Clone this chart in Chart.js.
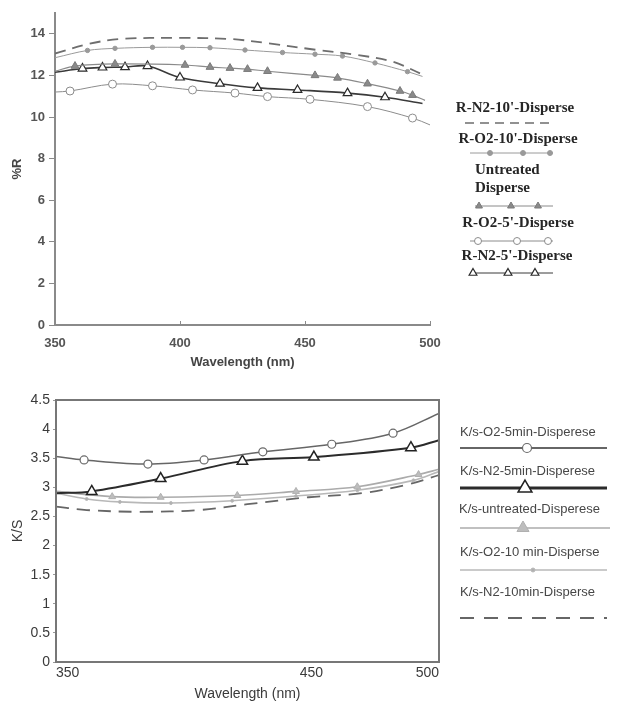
<!DOCTYPE html>
<html>
<head>
<meta charset="utf-8">
<script src="https://cdn.jsdelivr.net/npm/chart.js@4.4.0/dist/chart.umd.min.js"></script>
<style>
  html, body { margin: 0; padding: 0; background: #fff; }
  #wrap { position: relative; width: 617px; height: 706px; overflow: hidden; }
  canvas { position: absolute; left: 0; }
  #reflect { top: 0; }
  #ks { top: 370px; }
</style>
</head>
<body>
<div id="wrap">
  <canvas id="reflect" width="617" height="370"></canvas>
  <canvas id="ks" width="617" height="336"></canvas>
</div>
<script>
// ---------- Reflectance (%R) spectra ----------
const rN2_10_wl  = [350, 363, 376, 400, 420, 435, 455, 470, 485, 496];
const rN2_10_val = [13.05, 13.5, 13.75, 13.8, 13.75, 13.55, 13.22, 13.0, 12.66, 12.1];

const rO2_10_wl  = [350, 363, 374, 389, 401, 412, 426, 441, 454, 465, 478, 491, 497];
const rO2_10_val = [12.85, 13.2, 13.3, 13.35, 13.35, 13.33, 13.22, 13.1, 13.02, 12.93, 12.6, 12.18, 11.95];

const rUntr_wl  = [350, 358, 374, 402, 412, 420, 427, 435, 454, 463, 475, 488, 493, 498];
const rUntr_val = [12.2, 12.45, 12.55, 12.5, 12.4, 12.35, 12.3, 12.2, 12.0, 11.88, 11.6, 11.25, 11.05, 10.8];

const rO2_5_wl  = [350, 356, 373, 389, 405, 422, 435, 452, 475, 493, 500];
const rO2_5_val = [11.2, 11.25, 11.58, 11.5, 11.3, 11.15, 10.98, 10.85, 10.5, 9.95, 9.62];

const rN2_5_wl  = [350, 361, 369, 378, 387, 400, 416, 431, 447, 467, 482, 497];
const rN2_5_val = [12.15, 12.33, 12.38, 12.4, 12.45, 11.9, 11.6, 11.4, 11.3, 11.15, 10.95, 10.65];

const reflectTicksX = [350, 400, 450, 500];
const reflectLabels = ["R-N2-10'-Disperse", "R-O2-10'-Disperse", "Untreated|Disperse", "R-O2-5'-Disperse", "R-N2-5'-Disperse"];

// ---------- K/S spectra ----------
const ksO2_5_wl  = [350, 361, 386, 408, 431, 458, 482, 500];
const ksO2_5_val = [3.53, 3.47, 3.4, 3.47, 3.61, 3.74, 3.93, 4.27];

const ksN2_5_wl  = [350, 364, 391, 423, 451, 489, 500];
const ksN2_5_val = [2.9, 2.93, 3.15, 3.45, 3.52, 3.68, 3.81];

const ksUntr_wl  = [350, 372, 391, 421, 444, 468, 492, 500];
const ksUntr_val = [2.93, 2.84, 2.83, 2.86, 2.93, 3.01, 3.22, 3.31];

const ksO2_10_wl  = [350, 362, 375, 395, 419, 444, 468, 490, 500];
const ksO2_10_val = [2.9, 2.8, 2.75, 2.73, 2.77, 2.85, 2.95, 3.12, 3.27];

const ksN2_10_wl  = [350, 362, 383, 406, 425, 449, 470, 487, 500];
const ksN2_10_val = [2.67, 2.61, 2.58, 2.61, 2.71, 2.83, 2.9, 3.04, 3.21];

const ksTicksX = [350, 450, 500];
const ksLabels = ['K/s-O2-5min-Disperese', 'K/s-N2-5min-Disperese', 'K/s-untreated-Disperese', 'K/s-O2-10 min-Disperse', 'K/s-N2-10min-Disperse'];

// ---------- helpers ----------
const zip = (xs, ys) => xs.map((x, i) => ({ x, y: ys[i] }));
// markers on interior points only; the curve ends carry no symbol
const innerRadius = (r) => (ctx) => {
  const n = ctx.dataset.data.length;
  return (ctx.dataIndex === 0 || ctx.dataIndex === n - 1) ? 0 : r;
};

function series(label, wl, val, st) {
  return {
    label,
    data: zip(wl, val),
    borderColor: st.line,
    borderWidth: st.width,
    borderDash: st.dash || [],
    pointStyle: st.marker || 'circle',
    pointRadius: st.marker ? innerRadius(st.r) : 0,
    pointBackgroundColor: st.fill || st.line,
    pointBorderColor: st.edge || st.line,
    pointBorderWidth: st.edgeWidth || 1,
    tension: 0.35,
    fill: false
  };
}

function marker(ctx, style, x, y, r, fill, edge, lw) {
  ctx.save();
  ctx.beginPath();
  if (style === 'triangle') {
    const a = 2 * Math.PI / 3;
    ctx.moveTo(x, y - r);
    ctx.lineTo(x + Math.sin(a) * r, y - Math.cos(a) * r);
    ctx.lineTo(x + Math.sin(2 * a) * r, y - Math.cos(2 * a) * r);
    ctx.closePath();
  } else {
    ctx.arc(x, y, r, 0, Math.PI * 2);
  }
  ctx.fillStyle = fill;
  ctx.fill();
  ctx.strokeStyle = edge;
  ctx.lineWidth = lw;
  ctx.setLineDash([]);
  ctx.stroke();
  ctx.restore();
}

// side legend: each entry is text line(s) with a line sample beneath it
const sideLegend = {
  id: 'sideLegend',
  afterDraw(chart, args, opts) {
    const ctx = chart.ctx;
    opts.items.forEach(it => {
      const ds = chart.data.datasets[it.ds];
      ctx.save();
      ctx.font = opts.font;
      ctx.fillStyle = opts.color;
      ctx.textBaseline = 'middle';
      it.text.forEach(t => {
        ctx.textAlign = t.align || 'center';
        ctx.fillText(t.s, t.x, t.y);
      });
      ctx.beginPath();
      ctx.strokeStyle = it.lineColor || ds.borderColor;
      ctx.lineWidth = it.lineWidth || ds.borderWidth;
      ctx.setLineDash(it.dash || []);
      ctx.moveTo(it.x1, it.ly);
      ctx.lineTo(it.x2, it.ly);
      ctx.stroke();
      ctx.restore();
      (it.marks || []).forEach(mx => marker(ctx, ds.pointStyle, mx, it.ly, it.r,
        ds.pointBackgroundColor, ds.pointBorderColor, ds.pointBorderWidth));
    });
  }
};

// rectangular frame around the K/S plot area
const plotFrame = {
  id: 'plotFrame',
  afterDraw(chart, args, opts) {
    const a = chart.chartArea, ctx = chart.ctx;
    ctx.save();
    ctx.strokeStyle = opts.color;
    ctx.lineWidth = opts.width;
    ctx.strokeRect(a.left, a.top, a.right - a.left, a.bottom - a.top);
    ctx.restore();
  }
};

// short tick marks pointing up into the plot from the %R wavelength axis
const innerXTicks = {
  id: 'innerXTicks',
  afterDraw(chart, args, opts) {
    const x = chart.scales.x, ctx = chart.ctx, base = chart.chartArea.bottom;
    ctx.save();
    ctx.strokeStyle = opts.color;
    ctx.lineWidth = 1;
    x.ticks.forEach(t => {
      const px = Math.round(x.getPixelForValue(t.value)) + 0.5;
      ctx.beginPath();
      ctx.moveTo(px, base);
      ctx.lineTo(px, base - opts.length);
      ctx.stroke();
    });
    ctx.restore();
  }
};

const sansBold = (size) => ({ family: '"Liberation Sans", Arial, sans-serif', size, weight: 'bold' });
const sans = (size) => ({ family: '"Liberation Sans", Arial, sans-serif', size, weight: 'normal' });

// ---------- %R chart ----------
new Chart(document.getElementById('reflect'), {
  type: 'line',
  data: {
    datasets: [
      series(reflectLabels[0], rN2_10_wl, rN2_10_val, { line: '#6e6e6e', width: 1.8, dash: [11, 7] }),
      series(reflectLabels[1], rO2_10_wl, rO2_10_val, { line: '#9a9a9a', width: 1, marker: 'circle', r: 2.2, fill: '#9a9a9a' }),
      series(reflectLabels[2], rUntr_wl, rUntr_val, { line: '#8a8a8a', width: 1.2, marker: 'triangle', r: 4.5, fill: '#8a8a8a', edge: '#7a7a7a' }),
      series(reflectLabels[3], rO2_5_wl, rO2_5_val, { line: '#8c8c8c', width: 1, marker: 'circle', r: 4, fill: '#ffffff', edge: '#8c8c8c' }),
      series(reflectLabels[4], rN2_5_wl, rN2_5_val, { line: '#3a3a3a', width: 1.6, marker: 'triangle', r: 5, fill: '#ffffff', edge: '#2a2a2a', edgeWidth: 1.2 })
    ]
  },
  options: {
    responsive: false,
    animation: false,
    devicePixelRatio: 1,
    layout: { padding: { top: 13, right: 187, left: 0, bottom: 0 } },
    plugins: {
      legend: { display: false },
      tooltip: { enabled: false },
      innerXTicks: { color: '#8a8a8a', length: 4 },
      sideLegend: {
        font: 'bold 15px "Liberation Serif", "Times New Roman", serif',
        color: '#262626',
        items: [
          { ds: 0, text: [{ s: reflectLabels[0], x: 515, y: 108 }], ly: 123, x1: 465, x2: 552, lineWidth: 1.5, dash: [9, 6] },
          { ds: 1, text: [{ s: reflectLabels[1], x: 518, y: 139 }], ly: 153, x1: 470, x2: 553, lineWidth: 1, marks: [490, 523, 550], r: 2.5 },
          { ds: 2, text: [{ s: 'Untreated', x: 475, y: 170, align: 'left' }, { s: 'Disperse', x: 475, y: 188, align: 'left' }], ly: 206, x1: 475, x2: 553, lineWidth: 1, marks: [479, 511, 538], r: 4 },
          { ds: 3, text: [{ s: reflectLabels[3], x: 518, y: 223 }], ly: 241, x1: 470, x2: 553, lineWidth: 1, marks: [478, 517, 548], r: 3.5 },
          { ds: 4, text: [{ s: reflectLabels[4], x: 517, y: 256 }], ly: 273, x1: 470, x2: 553, lineWidth: 1, marks: [473, 508, 535], r: 4.5 }
        ]
      }
    },
    scales: {
      x: {
        type: 'linear', min: 350, max: 500,
        afterBuildTicks: (s) => { s.ticks = reflectTicksX.map(v => ({ value: v })); },
        afterFit: (s) => { s.height = 45; },
        grid: { display: false, drawTicks: false },
        border: { display: true, color: '#8a8a8a', width: 2 },
        ticks: { font: sansBold(13), color: '#555', padding: 11, maxRotation: 0 },
        title: { display: true, text: 'Wavelength (nm)', font: sansBold(13), color: '#444', padding: { top: 0, bottom: 0 } }
      },
      y: {
        type: 'linear', min: 0, max: 15,
        ticks: { stepSize: 2, font: sansBold(13), color: '#555', padding: 4 },
        afterBuildTicks: (s) => { s.ticks = s.ticks.filter(t => t.value % 2 === 0); },
        afterFit: (s) => { s.width = 55; },
        grid: { display: true, drawOnChartArea: false, drawTicks: true, tickLength: 6, color: '#8a8a8a', lineWidth: 1 },
        border: { display: true, color: '#8a8a8a', width: 2 },
        title: { display: true, text: '%R', font: sansBold(13), color: '#444', padding: { top: 10, bottom: 0 } }
      }
    }
  },
  plugins: [sideLegend, innerXTicks]
});

// ---------- K/S chart ----------
new Chart(document.getElementById('ks'), {
  type: 'line',
  data: {
    datasets: [
      series(ksLabels[0], ksO2_5_wl, ksO2_5_val, { line: '#666666', width: 1.5, marker: 'circle', r: 4, fill: '#ffffff', edge: '#6a6a6a', edgeWidth: 1.2 }),
      series(ksLabels[1], ksN2_5_wl, ksN2_5_val, { line: '#2b2b2b', width: 2, marker: 'triangle', r: 6, fill: '#ffffff', edge: '#222222', edgeWidth: 1.5 }),
      series(ksLabels[2], ksUntr_wl, ksUntr_val, { line: '#ababab', width: 1.6, marker: 'triangle', r: 4, fill: '#bdbdbd', edge: '#b0b0b0' }),
      series(ksLabels[3], ksO2_10_wl, ksO2_10_val, { line: '#b8b8b8', width: 1.6, marker: 'circle', r: 1.5, fill: '#b0b0b0' }),
      series(ksLabels[4], ksN2_10_wl, ksN2_10_val, { line: '#666666', width: 1.8, dash: [13, 8] })
    ]
  },
  options: {
    responsive: false,
    animation: false,
    devicePixelRatio: 1,
    layout: { padding: { top: 30, right: 178, left: 0, bottom: 0 } },
    plugins: {
      legend: { display: false },
      tooltip: { enabled: false },
      plotFrame: { color: '#777', width: 2 },
      sideLegend: {
        font: '13px "Liberation Sans", Arial, sans-serif',
        color: '#474747',
        items: [
          { ds: 0, text: [{ s: ksLabels[0], x: 460, y: 62, align: 'left' }], ly: 78, x1: 460, x2: 607, lineWidth: 2, marks: [527], r: 4.5 },
          { ds: 1, text: [{ s: ksLabels[1], x: 460, y: 101, align: 'left' }], ly: 118, x1: 460, x2: 607, lineWidth: 3, marks: [525], r: 8 },
          { ds: 2, text: [{ s: ksLabels[2], x: 459, y: 139, align: 'left' }], ly: 158, x1: 460, x2: 610, lineWidth: 1.5, marks: [523], r: 7 },
          { ds: 3, text: [{ s: ksLabels[3], x: 460, y: 182, align: 'left' }], ly: 200, x1: 460, x2: 607, lineWidth: 1.5, marks: [533], r: 2 },
          { ds: 4, text: [{ s: ksLabels[4], x: 460, y: 222, align: 'left' }], ly: 248, x1: 460, x2: 607, lineWidth: 2.2, dash: [14, 10] }
        ]
      }
    },
    scales: {
      x: {
        type: 'linear', min: 350, max: 500,
        afterBuildTicks: (s) => { s.ticks = ksTicksX.map(v => ({ value: v })); },
        afterFit: (s) => { s.height = 44; },
        grid: { display: false, drawTicks: false },
        border: { display: false },
        ticks: { font: sans(14), color: '#3a3a3a', padding: 3, align: 'inner', maxRotation: 0 },
        title: { display: true, text: 'Wavelength (nm)', font: sans(14), color: '#3a3a3a', padding: { top: 0, bottom: 3 } }
      },
      y: {
        type: 'linear', min: 0, max: 4.5,
        ticks: { stepSize: 0.5, font: sans(14), color: '#3a3a3a', padding: 3, callback: (v) => String(v) },
        afterFit: (s) => { s.width = 56; },
        grid: { display: true, drawOnChartArea: false, drawTicks: true, tickLength: 3, color: '#999', lineWidth: 1 },
        border: { display: false },
        title: { display: true, text: 'K/S', font: sans(14), color: '#3a3a3a', padding: { top: 10, bottom: 0 } }
      }
    }
  },
  plugins: [sideLegend, plotFrame]
});
</script>
</body>
</html>
